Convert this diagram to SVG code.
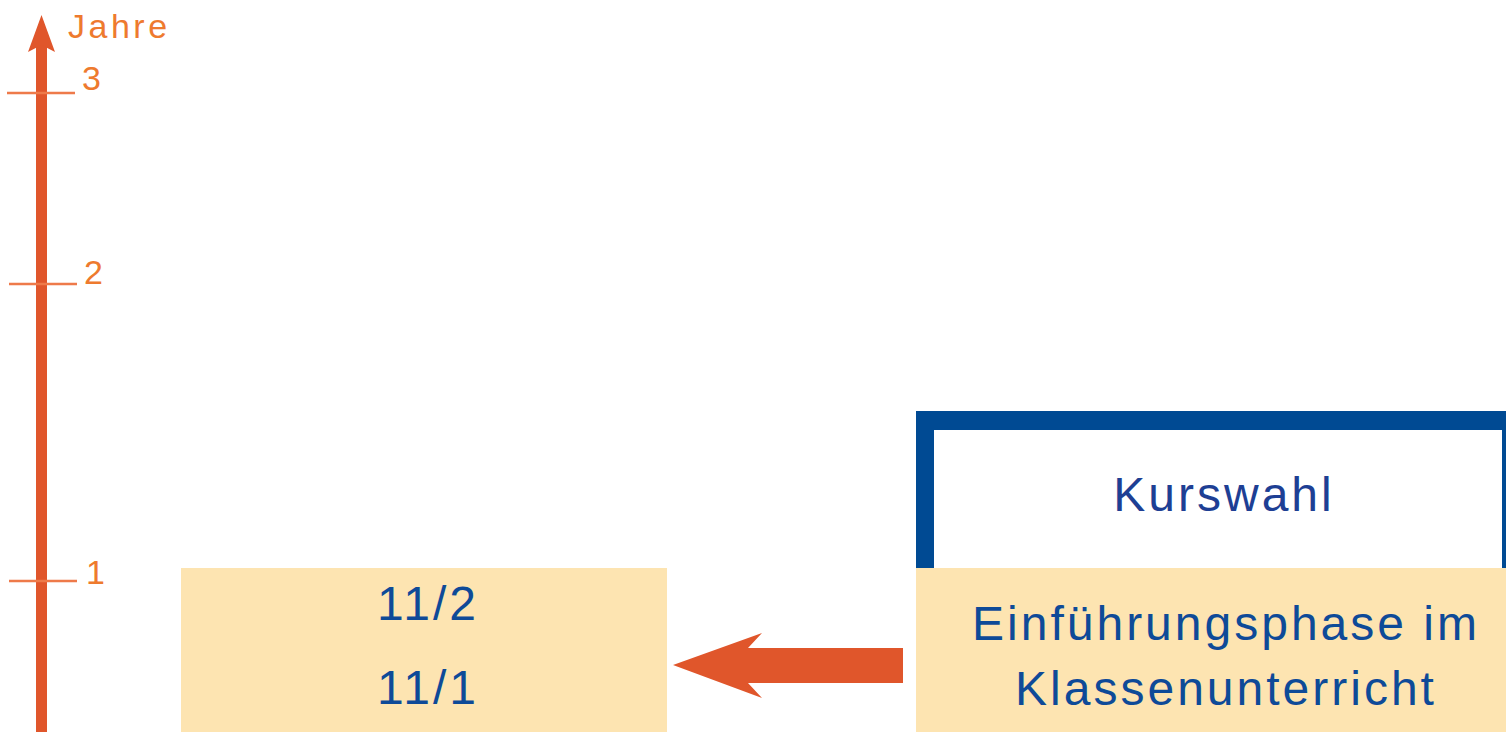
<svg xmlns="http://www.w3.org/2000/svg" width="1506" height="732" viewBox="0 0 1506 732">
<style>
.ax{fill:#EE7A2E;font-family:"Liberation Sans",Arial,sans-serif;font-size:34px;letter-spacing:3.5px}
.bt{fill:#0E4A98;font-family:"Liberation Sans",Arial,sans-serif;font-size:48px;text-anchor:middle;letter-spacing:3px}
.tick{stroke:#EE7A4A;stroke-width:2.5}
.beige{fill:#FDE4B1}
.orange{fill:#E0562B}
</style>
<rect width="1506" height="732" fill="#ffffff"/>
<g id="axis">
<rect class="orange" x="36" y="40" width="11" height="692"/>
<path class="orange" d="M41.5 15 L55 52 L41.5 45 L28 52 Z"/>
<line class="tick" x1="7" y1="93" x2="75" y2="93"/>
<line class="tick" x1="9" y1="284" x2="77" y2="284"/>
<line class="tick" x1="9" y1="581" x2="77" y2="581"/>
<text class="ax" x="68" y="38">Jahre</text>
<text class="ax" x="82" y="90">3</text>
<text class="ax" x="84" y="284">2</text>
<text class="ax" x="86" y="584">1</text>
</g>
<g id="left-box">
<rect class="beige" x="181" y="568" width="486" height="164"/>
<text class="bt" x="428" y="620">11/2</text>
<text class="bt" x="428" y="704">11/1</text>
</g>
<g id="kurswahl">
<rect x="916" y="411" width="590" height="157" fill="#004A93"/>
<rect x="934" y="430" width="568" height="138" fill="#ffffff"/>
<text class="bt" x="1224" y="511" fill="#1E3F94" style="fill:#1E3F94">Kurswahl</text>
</g>
<g id="einfuehrung">
<rect class="beige" x="916" y="568" width="590" height="164"/>
<text class="bt" x="1226" y="640">Einführungsphase im</text>
<text class="bt" x="1226" y="705">Klassenunterricht</text>
</g>
<g id="connectors">
<path class="orange" d="M673 665 L762 633 L748 648 L903 648 L903 683 L748 683 L762 698 Z"/>
</g>
</svg>
